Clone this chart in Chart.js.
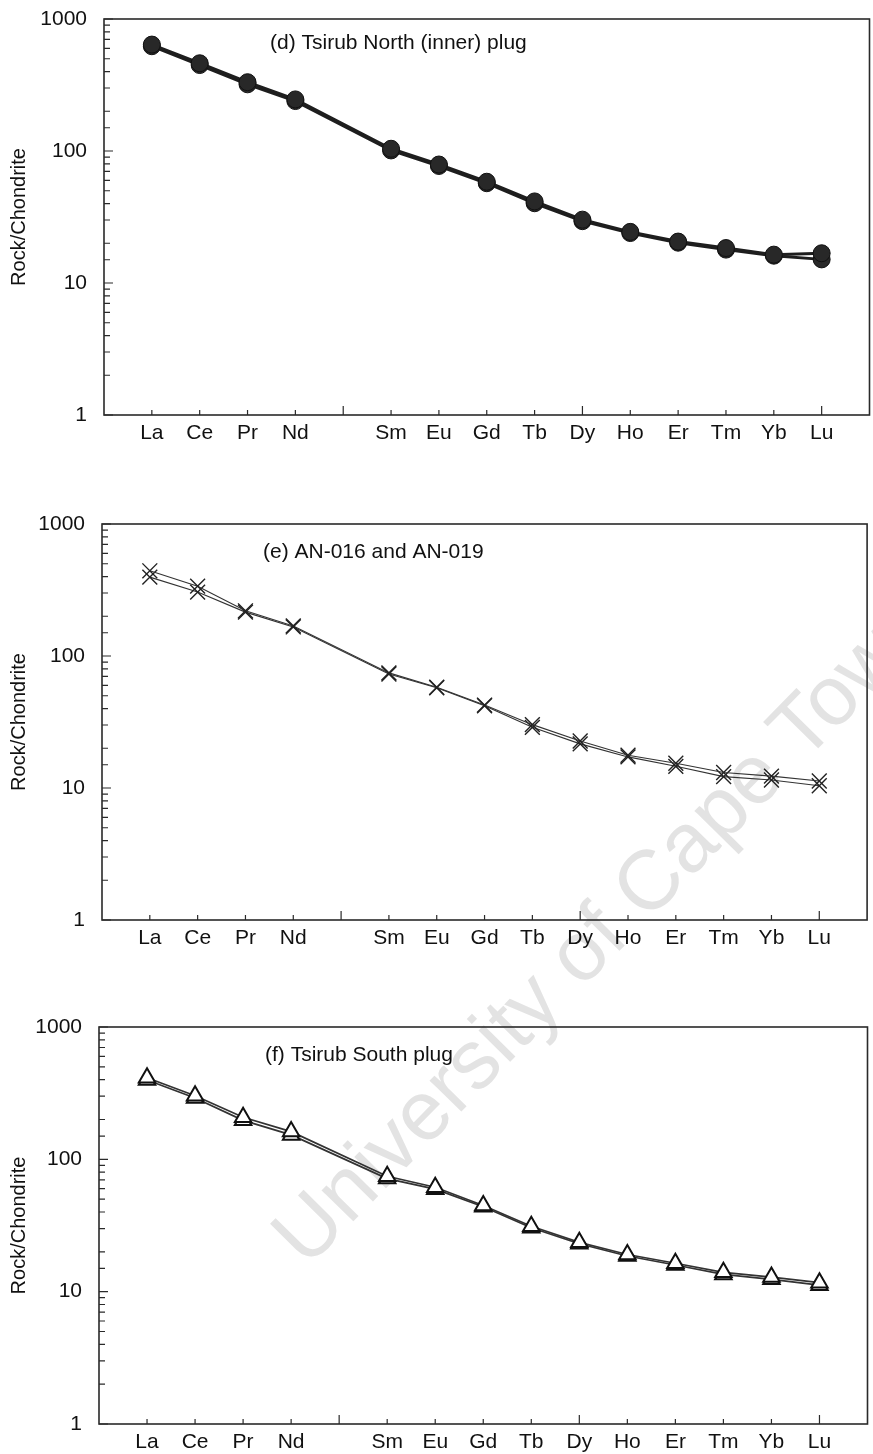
<!DOCTYPE html>
<html>
<head>
<meta charset="utf-8">
<script src="https://cdn.jsdelivr.net/npm/chart.js@4.4.1/dist/chart.umd.min.js"></script>
<style>
  body { margin: 0; background: #fff; }
  #page { position: relative; width: 873px; height: 1454px; overflow: hidden; }
  canvas { position: absolute; left: 0; }
  #wm {
    position: absolute; left: 316px; top: 1194px; white-space: nowrap; line-height: 1;
    font-family: Arial, "Liberation Sans", sans-serif; font-size: 84px;
    color: #e3e3e3; transform: rotate(-45.5deg); transform-origin: 0 100%;
  }
</style>
</head>
<body>
<div id="page">
  <div id="wm">University of Cape Town</div>
  <!-- canvases are a few px wider than the page; the x scale keeps ~6px free on its right -->
  <canvas id="chartD" width="879" height="455" style="top:0px"></canvas>
  <canvas id="chartE" width="879" height="455" style="top:505px"></canvas>
  <canvas id="chartF" width="879" height="446" style="top:1008px"></canvas>
</div>
<script>
// REE elements plotted, and the x axis labels (Pm slot left blank)
const ree = ["La", "Ce", "Pr", "Nd", "Sm", "Eu", "Gd", "Tb", "Dy", "Ho", "Er", "Tm", "Yb", "Lu"];
const axisLabels = ["La", "Ce", "Pr", "Nd", "", "Sm", "Eu", "Gd", "Tb", "Dy", "Ho", "Er", "Tm", "Yb", "Lu"];
const yLabels = [1, 10, 100, 1000];

// chondrite-normalised values
const tsirubNorth1 = [640, 462, 332, 246, 104, 79, 58.5, 41.5, 30.2, 24.4, 20.6, 18.4, 16.4, 16.8];
const tsirubNorth2 = [622, 448, 320, 239, 101, 77, 57, 40.2, 29.4, 23.9, 20.2, 17.9, 16.1, 15.1];
const an016 = [442, 338, 220, 169, 74.5, 58, 42.5, 30.2, 22.7, 17.7, 15.4, 13.1, 12.3, 11.3];
const an019 = [396, 305, 215, 166, 73, 57.5, 42, 28.8, 21.6, 17.2, 14.6, 12.2, 11.5, 10.4];
const tsirubSouth1 = [414, 302, 208, 162, 74.5, 61.5, 44.8, 31.2, 23.6, 19.1, 16.4, 14, 12.9, 11.7];
const tsirubSouth2 = [398, 291, 197, 153, 71.5, 59.5, 43.8, 30.4, 23, 18.6, 15.9, 13.5, 12.4, 11.2];

const FONT = "Arial, 'Liberation Sans', sans-serif";
const INK = "#111";

function toPoints(values) {
  return values.map((v, i) => ({ x: axisLabels.indexOf(ree[i]) + 1, y: v }));
}

function noPadding(s) {
  s.paddingLeft = 0;
  s.paddingRight = 0;
  s.paddingTop = 0;
  s.paddingBottom = 0;
}

// box round the plot, inward tick marks, panel caption
const framePlugin = {
  id: "frame",
  afterDraw(chart, args, opts) {
    const { ctx, chartArea: a, scales } = chart;
    ctx.save();
    ctx.strokeStyle = "#2a2a2a";
    ctx.lineWidth = 1.6;
    ctx.strokeRect(a.left, a.top, a.right - a.left, a.bottom - a.top);
    ctx.lineWidth = 1.2;
    ctx.beginPath();
    scales.y.ticks.forEach((t) => {
      const py = scales.y.getPixelForValue(t.value);
      const major = Math.abs(Math.log10(t.value) % 1) < 1e-9;
      ctx.moveTo(a.left, py);
      ctx.lineTo(a.left + (major ? 9 : 6), py);
    });
    for (let i = 1; i <= axisLabels.length; i++) {
      const px = scales.x.getPixelForValue(i);
      ctx.moveTo(px, a.bottom);
      ctx.lineTo(px, a.bottom - (i % 5 === 0 ? 9 : 5));
    }
    ctx.stroke();
    ctx.fillStyle = INK;
    ctx.font = "21px " + FONT;
    ctx.textBaseline = "middle";
    ctx.fillText(opts.text, opts.x, a.top + opts.dy);
    ctx.restore();
  },
};

function makeChart(id, datasets, p) {
  return new Chart(document.getElementById(id), {
    type: "line",
    data: { datasets: datasets },
    options: {
      responsive: false,
      animation: false,
      devicePixelRatio: 1,
      layout: { padding: { top: p.top, right: 873 - p.right, left: 0, bottom: 0 } },
      plugins: {
        legend: { display: false },
        tooltip: { enabled: false },
        frame: { text: p.title, x: p.titleX, dy: p.titleDy },
      },
      scales: {
        x: {
          type: "linear",
          min: 0,
          max: 16,
          grid: { display: false, drawTicks: false },
          border: { display: false },
          afterFit: (s) => {
            s.height = p.height - p.bottom;
            noPadding(s);
          },
          ticks: {
            stepSize: 1,
            autoSkip: false,
            maxRotation: 0,
            padding: 6,
            color: INK,
            font: { family: FONT, size: 21 },
            callback: (v) => axisLabels[v - 1] || "",
          },
        },
        y: {
          type: "logarithmic",
          min: 1,
          max: 1000,
          grid: { display: false, drawTicks: false },
          border: { display: false },
          afterFit: (s) => {
            s.width = p.left;
            noPadding(s);
          },
          title: {
            display: true,
            text: "Rock/Chondrite",
            color: INK,
            font: { family: FONT, size: 20 },
            padding: { top: 7, bottom: 0 },
          },
          ticks: {
            autoSkip: false,
            padding: 17,
            color: INK,
            font: { family: FONT, size: 21 },
            callback: (v) => (yLabels.includes(v) ? String(v) : ""),
          },
        },
      },
    },
    plugins: [framePlugin],
  });
}

makeChart("chartD", [
  { data: toPoints(tsirubNorth1), borderColor: "#1e1e1e", borderWidth: 3, pointStyle: "circle", pointRadius: 8.5, pointBackgroundColor: "#282828", pointBorderColor: "#111", pointBorderWidth: 1 },
  { data: toPoints(tsirubNorth2), borderColor: "#1e1e1e", borderWidth: 3, pointStyle: "circle", pointRadius: 8.5, pointBackgroundColor: "#282828", pointBorderColor: "#111", pointBorderWidth: 1 },
], { height: 455, top: 19, bottom: 415, left: 104, right: 870, title: "(d) Tsirub North (inner) plug", titleX: 270, titleDy: 24 });

makeChart("chartE", [
  { data: toPoints(an016), borderColor: "#333", borderWidth: 1.1, pointStyle: "crossRot", pointRadius: 10.5, pointBorderColor: "#222", pointBorderWidth: 1.4 },
  { data: toPoints(an019), borderColor: "#333", borderWidth: 1.1, pointStyle: "crossRot", pointRadius: 10.5, pointBorderColor: "#222", pointBorderWidth: 1.4 },
], { height: 455, top: 19, bottom: 415, left: 102, right: 868, title: "(e) AN-016 and AN-019", titleX: 263, titleDy: 28 });

makeChart("chartF", [
  { data: toPoints(tsirubSouth1), borderColor: "#333", borderWidth: 1.7, pointStyle: "triangle", pointRadius: 9.5, pointBackgroundColor: "#fff", pointBorderColor: "#111", pointBorderWidth: 2 },
  { data: toPoints(tsirubSouth2), borderColor: "#333", borderWidth: 1.7, pointStyle: "triangle", pointRadius: 9.5, pointBackgroundColor: "#fff", pointBorderColor: "#111", pointBorderWidth: 2 },
], { height: 446, top: 19, bottom: 416, left: 99, right: 867, title: "(f) Tsirub South plug", titleX: 265, titleDy: 28 });
</script>
</body>
</html>
